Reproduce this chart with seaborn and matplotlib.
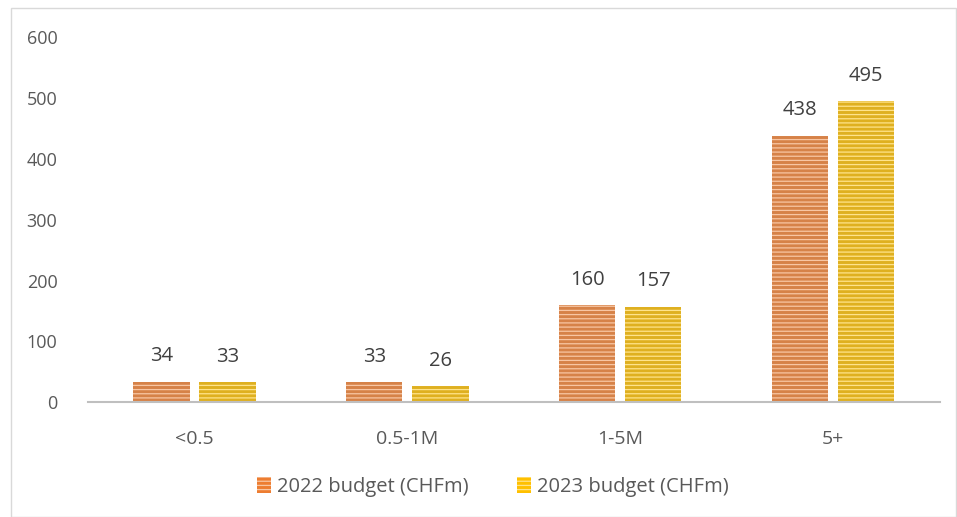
import matplotlib
matplotlib.use("Agg")
import matplotlib.pyplot as plt
import seaborn as sns
import pandas as pd
from matplotlib.patches import Rectangle

categories = ["<0.5", "0.5-1M", "1-5M", "5+"]
budget_2022 = [34, 33, 160, 438]
budget_2023 = [33, 26, 157, 495]
series = ["2022 budget (CHFm)", "2023 budget (CHFm)"]

df = pd.DataFrame({
    "cat": categories * 2,
    "val": budget_2022 + budget_2023,
    "series": [series[0]] * 4 + [series[1]] * 4,
})

colors = {series[0]: "#ED7D31", series[1]: "#FFC000"}
hatch_colors = {series[0]: "#F8C6A3", series[1]: "#FFE38A"}

sns.set_style("white")
plt.rcParams["font.family"] = ["Open Sans", "DejaVu Sans"]
plt.rcParams["hatch.linewidth"] = 0.9

fig = plt.figure(figsize=(9.57, 5.17), dpi=100)
ax = fig.add_axes([0.092, 0.222, 0.89, 0.706])

sns.barplot(data=df, x="cat", y="val", hue="series", order=categories,
            hue_order=series, palette=colors, width=0.62, gap=0.15,
            legend=False, ax=ax)

for cont, s in zip(ax.containers, series):
    for bar in cont:
        bar.set_hatch("----")
        bar.set_edgecolor(hatch_colors[s])
        bar.set_linewidth(0)
    ax.bar_label(cont, padding=11, fontsize=14.5, color="#404040")

ax.set_ylim(0, 600)
ax.set_yticks(range(0, 601, 100))
ax.set_xlabel("")
ax.set_ylabel("")
ax.tick_params(axis="both", colors="#595959", length=0)
ax.tick_params(axis="x", labelsize=14, pad=20)
ax.tick_params(axis="y", labelsize=13, pad=22)
for sp in ["top", "right", "left"]:
    ax.spines[sp].set_visible(False)
ax.spines["bottom"].set_color("#BFBFBF")
ax.spines["bottom"].set_linewidth(1.5)

handles = [Rectangle((0, 0), 1, 1, facecolor=colors[s], edgecolor=hatch_colors[s],
                     hatch="----", linewidth=0) for s in series]
fig.legend(handles, series, loc="center", bbox_to_anchor=(0.515, 0.058), ncol=2,
           frameon=False, fontsize=14.5, labelcolor="#595959",
           handlelength=0.7, handleheight=0.8, columnspacing=2.4, handletextpad=0.3)

fig.add_artist(Rectangle((0.011, 0.0), 0.988, 0.985, transform=fig.transFigure,
                         fill=False, edgecolor="#D9D9D9", linewidth=1))

fig.savefig("out.png", dpi=100)
